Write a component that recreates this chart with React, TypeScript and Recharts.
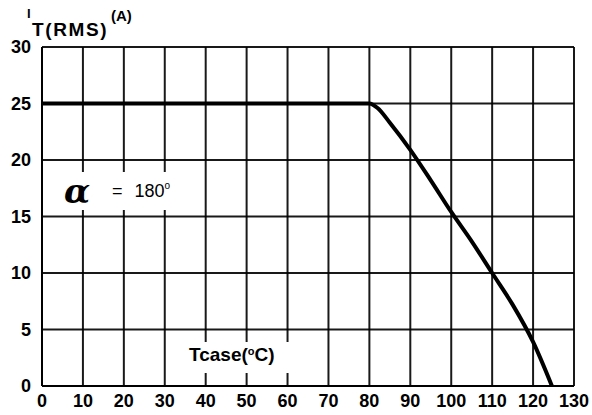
import React from 'react';
import { LineChart, Line, XAxis, YAxis, CartesianGrid } from 'recharts';

// case temperature (°C) vs RMS on-state current (A)
const tcase = [0, 80, 82, 85, 90, 95, 100, 105, 110, 115, 120, 124.6];
const itRms = [25, 25, 24.6, 23.3, 20.9, 18.2, 15.4, 12.8, 10, 7.2, 3.9, 0];

const xTicks = [0, 10, 20, 30, 40, 50, 60, 70, 80, 90, 100, 110, 120, 130];
const yTicks = [0, 5, 10, 15, 20, 25, 30];

const data = tcase.map((t, i) => ({ t, i: itRms[i] }));

const FONT = '"Liberation Sans", Arial, sans-serif';
const tickStyle = { fontFamily: FONT, fontWeight: 700, fontSize: 18, fill: '#000' };

export default function App() {
  return (
    <div style={{ position: 'absolute', left: 0, top: 0, width: 592, height: 415, background: '#fff', fontFamily: FONT }}>
      <LineChart
        width={592}
        height={415}
        data={data}
        margin={{ top: 47, right: 18, bottom: 0, left: 0 }}
      >
        <CartesianGrid stroke="#000" strokeWidth={2} strokeOpacity={0.9} />
        <XAxis
          dataKey="t"
          type="number"
          domain={[0, 130]}
          ticks={xTicks}
          interval={0}
          height={29}
          tick={tickStyle}
          tickLine={false}
          axisLine={{ stroke: '#000', strokeWidth: 2 }}
          tickMargin={2}
        />
        <YAxis
          type="number"
          domain={[0, 30]}
          ticks={yTicks}
          interval={0}
          width={42}
          tick={tickStyle}
          tickLine={false}
          axisLine={{ stroke: '#000', strokeWidth: 2 }}
          tickMargin={5}
        />
        <Line
          dataKey="i"
          type="monotone"
          stroke="#000"
          strokeWidth={4}
          dot={false}
          isAnimationActive={false}
        />
      </LineChart>

      {/* y axis title */}
      <div style={{ position: 'absolute', left: 27, top: 7, fontWeight: 700, fontSize: 13, lineHeight: 1 }}>I</div>
      <div style={{ position: 'absolute', left: 32, top: 20, fontWeight: 700, fontSize: 19, lineHeight: 1, letterSpacing: 1.6 }}>T(RMS)</div>
      <div style={{ position: 'absolute', left: 111, top: 8, fontWeight: 700, fontSize: 15, lineHeight: 1 }}>(A)</div>

      {/* conduction angle, on a white patch that hides the grid */}
      <div style={{ position: 'absolute', left: 58, top: 172, width: 118, height: 38, background: '#fff' }} />
      <div style={{ position: 'absolute', left: 64, top: 174, fontSize: 34, fontStyle: 'italic', fontWeight: 700, lineHeight: 1, fontFamily: '"DejaVu Serif", serif' }}>α</div>
      <div style={{ position: 'absolute', left: 112, top: 182, fontSize: 18, lineHeight: 1, whiteSpace: 'nowrap' }}>
        =<span style={{ marginLeft: 12 }}>180</span>
        <span style={{ position: 'relative', top: -8, fontSize: 10 }}>o</span>
      </div>

      {/* x axis title */}
      <div style={{ position: 'absolute', left: 186, top: 342, width: 108, height: 31, background: '#fff' }} />
      <div style={{ position: 'absolute', left: 189, top: 345, fontWeight: 700, fontSize: 19, lineHeight: 1, whiteSpace: 'nowrap' }}>
        Tcase(<span style={{ position: 'relative', top: -6, fontSize: 11 }}>o</span>C)
      </div>
    </div>
  );
}
